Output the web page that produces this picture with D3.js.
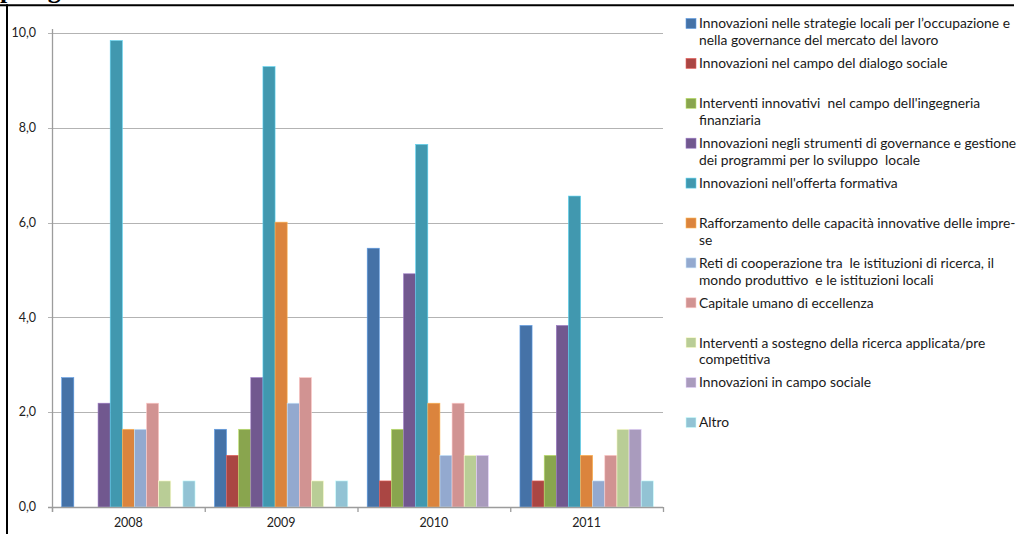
<!DOCTYPE html>
<html>
<head>
<meta charset="utf-8">
<script src="https://cdn.jsdelivr.net/npm/d3@7"></script>
<style>
  html, body { margin: 0; padding: 0; background: #fff; overflow: hidden; }
  svg { display: block; font-family: Lato, "Open Sans", sans-serif; }
</style>
</head>
<body>
<svg id="chart" width="1018" height="534"></svg>
<script>
// Bar chart: share (%) of interventions by type and year, Excel-style.
const years = ['2008', '2009', '2010', '2011'];

const seriesNames = [
  ['Innovazioni nelle strategie locali per l\u2019occupazione e', 'nella governance del mercato del lavoro'],
  ['Innovazioni nel campo del dialogo sociale'],
  ['Interventi innovativi  nel campo dell\'ingegneria', 'finanziaria'],
  ['Innovazioni negli strumenti di governance e gestione', 'dei programmi per lo sviluppo  locale'],
  ['Innovazioni nell\'offerta formativa'],
  ['Rafforzamento delle capacità innovative delle impre-', 'se'],
  ['Reti di cooperazione tra  le istituzioni di ricerca, il', 'mondo produttivo  e le istituzioni locali'],
  ['Capitale umano di eccellenza'],
  ['Interventi a sostegno della ricerca applicata/pre', 'competitiva'],
  ['Innovazioni in campo sociale'],
  ['Altro']
];

const seriesColors = ['#4572a7', '#aa4643', '#89a54e', '#71588f', '#4198af', '#db843d',
                      '#93a9cf', '#d19392', '#b9cd96', '#a99bbd', '#92c3d4'];

// one row per series, values for 2008..2011
const seriesValues = [
  [2.73, 1.64, 5.46, 3.83],
  [0,    1.09, 0.55, 0.55],
  [0,    1.64, 1.64, 1.09],
  [2.19, 2.73, 4.92, 3.83],
  [9.84, 9.29, 7.65, 6.56],
  [1.64, 6.01, 2.19, 1.09],
  [1.64, 2.19, 1.09, 0.55],
  [2.19, 2.73, 2.19, 1.09],
  [0.55, 0.55, 1.09, 1.64],
  [0,    0,    1.09, 1.64],
  [0.55, 0.55, 0,    0.55]
];

const yTicks = [0, 2, 4, 6, 8, 10];

const svg = d3.select('#chart');
const fmt = v => d3.format('.1f')(v).replace('.', ',');

// frame and the page title above it, cut off by the crop
svg.append('text')
  .attr('x', -24).attr('y', -2)
  .style('font-family', '"Liberation Serif", serif')
  .style('font-weight', 'bold')
  .style('font-size', '26px')
  .attr('fill', '#000')
  .text('Tipologia');
svg.append('line').attr('x1', 0).attr('x2', 1014).attr('y1', 5.3).attr('y2', 5.3)
  .attr('stroke', '#000').attr('stroke-width', 2);
svg.append('line').attr('x1', 7).attr('x2', 7).attr('y1', 4.3).attr('y2', 534)
  .attr('stroke', '#000').attr('stroke-width', 2);

const plot = { left: 52, right: 663, top: 33, bottom: 507 };

const y = d3.scaleLinear().domain([0, 10]).range([plot.bottom, plot.top]);
const x = d3.scaleBand().domain(years).range([plot.left, plot.right]).padding(0);
const xs = d3.scaleBand().domain(d3.range(seriesNames.length))
  .range([0, x.bandwidth()]).paddingInner(0).paddingOuter(0.8);

// gridlines + y labels
const grid = svg.append('g');
grid.selectAll('line').data(yTicks.filter(t => t > 0)).join('line')
  .attr('x1', plot.left - 4).attr('x2', plot.right)
  .attr('y1', d => Math.round(y(d)) + 0.5).attr('y2', d => Math.round(y(d)) + 0.5)
  .attr('stroke', '#b3b3b3').attr('stroke-width', 1.2);

svg.append('g').selectAll('text').data(yTicks).join('text')
  .attr('x', 36).attr('y', d => y(d) + 4.2)
  .attr('text-anchor', 'end')
  .style('font-size', '12.5px').attr('fill', '#222')
  .text(fmt);

// bars
const groups = svg.append('g').selectAll('g').data(seriesValues).join('g')
  .attr('fill', (d, i) => seriesColors[i]);
groups.each(function(vals, si) {
  d3.select(this).selectAll('rect').data(vals).join('rect')
    .attr('x', (d, yi) => x(years[yi]) + xs(si))
    .attr('width', xs.bandwidth())
    .attr('y', d => y(d))
    .attr('height', d => plot.bottom - y(d))
    .attr('stroke', d3.color(seriesColors[si]).brighter(0.9))
    .attr('stroke-width', 0.6)
    .style('display', d => d > 0 ? null : 'none');
});

// axes lines
svg.append('line').attr('x1', plot.left + 0.5).attr('x2', plot.left + 0.5)
  .attr('y1', plot.top - 4).attr('y2', plot.bottom + 5)
  .attr('stroke', '#9c9c9c').attr('stroke-width', 1.3);
svg.append('line').attr('x1', plot.left - 4).attr('x2', plot.right)
  .attr('y1', plot.bottom + 0.5).attr('y2', plot.bottom + 0.5)
  .attr('stroke', '#9c9c9c').attr('stroke-width', 1.3);
svg.append('g').selectAll('line').data(years.map(x).concat([plot.right])).join('line')
  .attr('x1', d => d + 0.5).attr('x2', d => d + 0.5)
  .attr('y1', plot.bottom).attr('y2', plot.bottom + 5)
  .attr('stroke', '#9c9c9c').attr('stroke-width', 1.3);

svg.append('g').selectAll('text').data(years).join('text')
  .attr('x', d => x(d) + x.bandwidth() / 2).attr('y', 527)
  .attr('text-anchor', 'middle')
  .style('font-size', '12.5px').attr('fill', '#222')
  .text(d => d);

// legend
const legend = svg.append('g').selectAll('g').data(seriesNames).join('g')
  .attr('transform', (d, i) => `translate(686, ${23.5 + i * 39.9})`);
legend.append('rect')
  .attr('x', 0).attr('y', -5).attr('width', 10).attr('height', 10)
  .attr('fill', (d, i) => seriesColors[i])
  .attr('stroke', (d, i) => d3.color(seriesColors[i]).brighter(0.9))
  .attr('stroke-width', 0.6);
legend.each(function(lines) {
  d3.select(this).selectAll('text').data(lines).join('text')
    .attr('x', 13).attr('y', (d, k) => 4.8 + k * 17)
    .style('font-size', '13.8px').attr('fill', '#1a1a1a')
    .style('white-space', 'pre')
    .text(d => d);
});
</script>
</body>
</html>
